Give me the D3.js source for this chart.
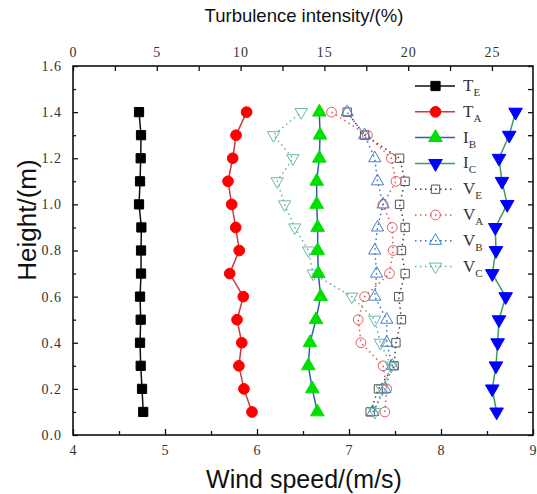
<!DOCTYPE html>
<html><head><meta charset="utf-8">
<script src="https://cdn.jsdelivr.net/npm/d3@7"></script>
<style>
body{margin:0;background:#fff;}
svg{display:block;}
</style></head>
<body><svg id="c" width="537" height="494"></svg>
<script>
// ---- data ----
const heights = [0.1,0.2,0.3,0.4,0.5,0.6,0.7,0.8,0.9,1.0,1.1,1.2,1.3,1.4];
// turbulence intensity (%), top axis
const TE = [4.19,4.12,4.04,4.00,4.04,4.00,4.06,4.06,4.08,3.94,4.00,4.04,4.06,3.94];
const TA = [10.68,10.20,9.90,10.07,9.79,10.16,9.35,9.92,9.71,9.47,9.25,9.53,9.73,10.36];
const IB = [14.58,14.28,14.04,14.14,14.50,14.78,14.64,14.60,14.60,14.54,14.54,14.70,14.74,14.70];
const IC = [25.28,25.02,25.24,25.34,25.42,25.82,25.02,25.24,25.20,25.91,25.60,25.42,26.03,26.41];
// wind speed (m/s), bottom axis
const VE = [7.23,7.32,7.49,7.51,7.57,7.54,7.61,7.57,7.61,7.55,7.61,7.55,7.17,6.98];
const VA = [7.39,7.41,7.37,7.13,7.10,7.17,7.44,7.48,7.47,7.37,7.51,7.46,7.20,6.81];
const VB = [7.26,7.39,7.47,7.41,7.41,7.28,7.30,7.28,7.31,7.37,7.31,7.28,7.17,6.98];
const VC = [7.28,7.36,7.46,7.34,7.28,7.03,6.61,6.56,6.41,6.30,6.22,6.39,6.18,6.48];
const speedTicks = [4,5,6,7,8,9];
const speedMinor = [4.5,5.5,6.5,7.5,8.5];
const tiTicks = [0,5,10,15,20,25];
const tiMinor = [2.5,7.5,12.5,17.5,22.5];
const hTicks = [0,0.2,0.4,0.6,0.8,1.0,1.2,1.4,1.6];
const hMinor = [0.1,0.3,0.5,0.7,0.9,1.1,1.3,1.5];

const svg = d3.select("#c");
const L=73,R=533,T=66,B=435;
const x = d3.scaleLinear().domain([4,9]).range([L,R]);
const xt = d3.scaleLinear().domain([0,27.45]).range([L,R]);
const y = d3.scaleLinear().domain([0,1.6]).range([B,T]);
const serif = "'Liberation Serif','DejaVu Serif',serif";

function styleAxis(g){
  g.attr("font-family",serif).attr("font-size",14);
  g.select(".domain").remove();
  g.selectAll(".tick line").attr("stroke","#111").attr("stroke-width",1.3);
  g.selectAll(".tick text").attr("fill","#333").attr("font-family",serif).attr("font-size",14).attr("letter-spacing","1px");
}

svg.append("g").attr("transform",`translate(0,${B})`)
  .call(d3.axisBottom(x).tickValues(speedTicks).tickSize(-6).tickPadding(10).tickFormat(d3.format("d"))).call(styleAxis);
svg.append("g").attr("transform",`translate(0,${B})`)
  .call(d3.axisBottom(x).tickValues(speedMinor).tickSize(-4).tickFormat("")).call(styleAxis);
svg.append("g").attr("transform",`translate(0,${T})`)
  .call(d3.axisTop(xt).tickValues(tiTicks).tickSize(-5).tickPadding(9).tickFormat(d3.format("d"))).call(styleAxis);
svg.append("g").attr("transform",`translate(0,${T})`)
  .call(d3.axisTop(xt).tickValues(tiMinor).tickSize(-5).tickFormat("")).call(styleAxis);
svg.append("g").attr("transform",`translate(${L},0)`)
  .call(d3.axisLeft(y).tickValues(hTicks).tickSize(-5).tickPadding(11).tickFormat(d3.format(".1f"))).call(styleAxis);
svg.append("g").attr("transform",`translate(${L},0)`)
  .call(d3.axisLeft(y).tickValues(hMinor).tickSize(-3).tickFormat("")).call(styleAxis);
svg.append("g").attr("transform",`translate(${R},0)`)
  .call(d3.axisRight(y).tickValues(hTicks.concat(hMinor)).tickSize(-5).tickFormat("")).call(styleAxis);

svg.append("rect").attr("x",L).attr("y",T).attr("width",R-L).attr("height",B-T)
  .attr("fill","none").attr("stroke","#111").attr("stroke-width",1.6);

// titles
const sans = "Arial, 'Liberation Sans', sans-serif";
svg.append("text").attr("x",304).attr("y",22).attr("text-anchor","middle")
  .attr("font-family",sans).attr("font-size",18.5).attr("fill","#111").text("Turbulence intensity/(%)");
svg.append("text").attr("x",304).attr("y",488).attr("text-anchor","middle")
  .attr("font-family",sans).attr("font-size",25).attr("fill","#111").text("Wind speed/(m/s)");
svg.append("text").attr("transform","translate(36,220) rotate(-90)").attr("text-anchor","middle")
  .attr("font-family",sans).attr("font-size",26).attr("fill","#111").text("Height/(m)");

const sym = {
  square: d3.symbol().type(d3.symbolSquare),
  circle: d3.symbol().type(d3.symbolCircle),
  tri: d3.symbol().type(d3.symbolTriangle)
};

const series = [
  {name:"V",sub:"E",vals:VE,scale:x,line:"#444",dash:"1.5,3.5",mk:"square",size:70,fill:"none",stroke:"#555",rot:0},
  {name:"V",sub:"A",vals:VA,scale:x,line:"#e05555",dash:"1.5,3.5",mk:"circle",size:75,fill:"none",stroke:"#e06060",rot:0},
  {name:"V",sub:"B",vals:VB,scale:x,line:"#3a6fc4",dash:"1.5,3.5",mk:"tri",size:65,fill:"none",stroke:"#4a7cc8",rot:0},
  {name:"V",sub:"C",vals:VC,scale:x,line:"#5fb49c",dash:"1.5,3.5",mk:"tri",size:65,fill:"none",stroke:"#6ab8a0",rot:180},
  {name:"T",sub:"E",vals:TE,scale:xt,line:"#111",dash:null,mk:"square",size:85,fill:"#000",stroke:"#000",rot:0},
  {name:"T",sub:"A",vals:TA,scale:xt,line:"#c83c3c",dash:null,mk:"circle",size:90,fill:"#ff0000",stroke:"#ff0000",rot:0},
  {name:"I",sub:"B",vals:IB,scale:xt,line:"#2f5fb0",dash:null,mk:"tri",size:80,fill:"#00e000",stroke:"#00e000",rot:0},
  {name:"I",sub:"C",vals:IC,scale:xt,line:"#3e9a62",dash:null,mk:"tri",size:80,fill:"#0000ff",stroke:"#0000ff",rot:180}
];

series.forEach(s=>{
  const pts = heights.map((h,i)=>[s.scale(s.vals[i]), y(h)]);
  svg.append("path").attr("d",d3.line()(pts)).attr("fill","none")
    .attr("stroke",s.line).attr("stroke-width",1.5).attr("stroke-dasharray",s.dash);
  svg.append("g").selectAll("path").data(pts).join("path")
    .attr("transform",d=>`translate(${d[0]},${d[1]}) rotate(${s.rot})`)
    .attr("d",sym[s.mk].size(s.size)()).attr("fill",s.fill).attr("stroke",s.stroke).attr("stroke-width",1);
});

// legend
const legOrder = [4,5,6,7,0,1,2,3];
const lg = svg.append("g");
legOrder.forEach((si,k)=>{
  const s = series[si];
  const yy = 86 + k*25.8;
  lg.append("line").attr("x1",415).attr("x2",455).attr("y1",yy).attr("y2",yy)
    .attr("stroke",s.line).attr("stroke-width",1.5).attr("stroke-dasharray",s.dash);
  lg.append("path").attr("transform",`translate(435.5,${yy}) rotate(${s.rot})`)
    .attr("d",sym[s.mk].size(s.size)()).attr("fill",s.fill).attr("stroke",s.stroke).attr("stroke-width",1);
  const t = lg.append("text").attr("x",463).attr("y",yy+5)
    .attr("font-family",serif).attr("font-size",17).attr("fill","#333");
  t.append("tspan").text(s.name);
  t.append("tspan").attr("font-size",11).attr("dy",5).text(s.sub);
});
</script></body></html>
